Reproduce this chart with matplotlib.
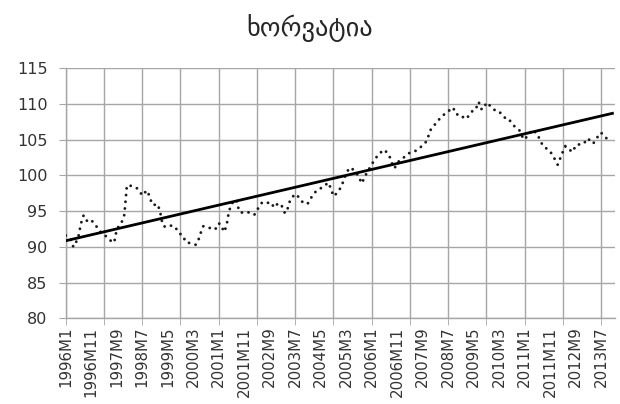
import numpy as np
import matplotlib
matplotlib.use("Agg")
import matplotlib.pyplot as plt

# monthly index values, 1996M1 .. 2013M10
values = [
    91.6, 91.3, 91.0, 90.0, 90.6, 91.5, 93.3, 94.4, 93.7, 93.6, 93.8, 93.3,   # 1996
    92.9, 92.3, 92.0, 91.8, 91.4, 91.0, 90.8, 90.6, 92.4, 93.0, 93.5, 94.5,   # 1997
    98.6, 98.6, 98.5, 98.3, 98.2, 97.8, 97.2, 97.6, 97.9, 96.9, 95.9, 95.9,   # 1998
    96.0, 95.0, 93.1, 92.8, 92.9, 93.0, 92.9, 92.8, 92.1, 91.8, 91.6, 90.7,   # 1999
    90.6, 90.5, 90.4, 90.3, 90.9, 92.0, 92.9, 92.8, 92.7, 92.6, 92.4, 92.6,   # 2000
    93.3, 93.1, 92.1, 92.8, 94.9, 96.0, 96.4, 96.6, 95.0, 94.8, 94.9, 94.9,   # 2001
    94.8, 94.7, 94.5, 95.1, 95.7, 96.2, 96.1, 96.1, 96.3, 95.9, 95.5, 96.0,   # 2002
    96.1, 95.6, 94.7, 95.3, 96.5, 97.0, 97.4, 97.1, 96.8, 96.2, 96.0, 96.1,   # 2003
    96.7, 97.3, 97.7, 97.9, 98.2, 98.4, 98.7, 99.0, 98.2, 97.1, 97.4, 97.9,   # 2004
    98.3, 99.3, 100.2, 100.9, 101.1, 100.7, 100.3, 99.9, 98.9, 99.5, 100.3, 100.9,   # 2005
    101.5, 102.1, 102.6, 102.9, 103.4, 103.6, 103.2, 102.7, 101.7, 101.0, 101.7, 102.1,   # 2006
    102.4, 102.6, 102.9, 103.2, 103.3, 103.4, 103.6, 103.9, 104.2, 104.5, 105.2, 106.3,   # 2007
    106.8, 107.2, 107.7, 108.0, 108.4, 108.7, 109.0, 109.2, 109.5, 108.6, 108.5, 108.5,   # 2008
    108.1, 107.9, 108.3, 108.7, 109.3, 109.4, 110.3, 109.3, 109.3, 110.2, 109.9, 109.6,   # 2009
    109.2, 109.1, 109.0, 108.5, 108.2, 107.8, 107.8, 107.3, 106.9, 106.6, 106.3, 105.5,   # 2010
    105.0, 105.5, 105.9, 106.4, 106.1, 105.8, 105.0, 104.3, 103.9, 103.7, 103.4, 102.8,   # 2011
    102.2, 101.5, 102.4, 103.3, 104.1, 103.7, 103.5, 103.3, 104.2, 104.3, 104.4, 104.4,   # 2012
    104.8, 105.2, 104.6, 104.5, 105.0, 105.6, 106.0, 105.6, 105.3, 104.4,               # 2013
]
n_axis = 216  # categories on the axis: 1996M1 .. 2013M12
labels = ["%dM%d" % (1996 + i // 12, i % 12 + 1) for i in range(n_axis)]
title = "ხორვატია"

x = np.arange(len(values))
y = np.array(values)

fig = plt.figure(figsize=(6.2, 4.04), dpi=100)
ax = fig.add_axes([0.106, 0.212, 0.886, 0.619])

ax.plot(x, y, color="#1a1a1a", lw=2.1, linestyle=(0, (0.01, 2.3)),
        dash_capstyle="round", zorder=3)

# linear trend, drawn across the whole axis like excel's forecast
k, b = np.polyfit(x, y, 1)
xt = np.array([0, n_axis - 1])
ax.plot(xt, k * xt + b, color="black", lw=2.0, solid_capstyle="butt", zorder=4)

ax.set_xlim(0, n_axis - 0.5)
ax.set_ylim(80, 115)
ax.set_yticks(range(80, 116, 5))

# labels every 10 months, gridlines / tick marks every 15 months
ax.xaxis.remove_overlapping_locs = False
lab_pos = list(range(0, n_axis, 10))
ax.set_xticks(lab_pos)
ax.set_xticklabels([labels[i] for i in lab_pos], rotation=90)
ax.set_xticks(range(0, n_axis, 15), minor=True)

ax.grid(True, which="minor", axis="x", color="#a6a6a6", lw=1.0)
ax.grid(True, which="major", axis="y", color="#a6a6a6", lw=1.0)
ax.tick_params(axis="x", which="major", length=0, pad=6, labelsize=10.8, labelcolor="#333333")
ax.tick_params(axis="x", which="minor", length=5, color="#a6a6a6")
ax.tick_params(axis="y", length=5, pad=8, color="#a6a6a6", labelsize=11.5, labelcolor="#333333")

for s in ["top", "right"]:
    ax.spines[s].set_visible(False)
for s in ["left", "bottom"]:
    ax.spines[s].set_color("#a6a6a6")
    ax.spines[s].set_linewidth(1.0)

fig.text(0.5, 0.93, title, ha="center", va="center", fontsize=19,
         color="#262626", family=["DejaVu Sans"])

fig.savefig("out.png", dpi=100)
